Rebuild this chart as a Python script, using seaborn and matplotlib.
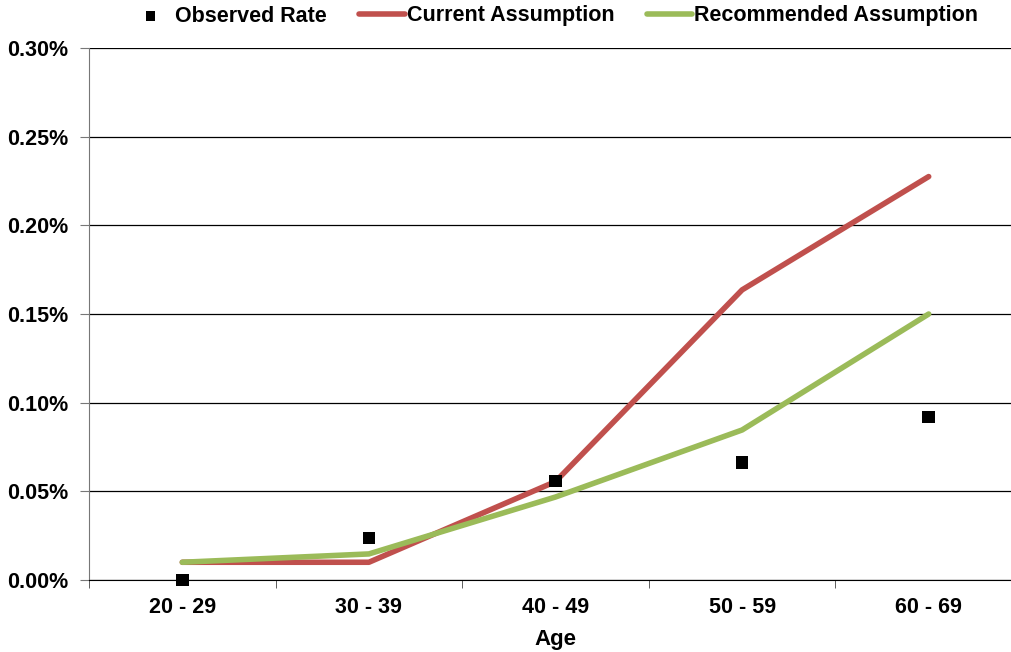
import matplotlib
matplotlib.use('Agg')
import matplotlib.pyplot as plt
import numpy as np
import pandas as pd
import seaborn as sns
from matplotlib.ticker import FuncFormatter

age_groups = ['20 - 29', '30 - 39', '40 - 49', '50 - 59', '60 - 69']
observed_rate = [0.0000, 0.0237, 0.0558, 0.0662, 0.0920]
current_assumption = [0.0100, 0.0100, 0.0555, 0.1636, 0.2275]
recommended_assumption = [0.0100, 0.0147, 0.0468, 0.0846, 0.1500]

df = pd.DataFrame({
    'Age': age_groups,
    'Observed Rate': observed_rate,
    'Current Assumption': current_assumption,
    'Recommended Assumption': recommended_assumption,
})
df['pos'] = np.arange(len(age_groups))

sns.set_style('white')
plt.rcParams['font.family'] = ['Liberation Sans', 'DejaVu Sans']
plt.rcParams['font.weight'] = 'bold'
plt.rcParams['text.color'] = 'black'
plt.rcParams['axes.labelcolor'] = 'black'

fig = plt.figure(figsize=(10.12, 6.52), dpi=100)
ax = fig.add_axes([89 / 1012, 72 / 652, 933 / 1012, 532 / 652])

sns.lineplot(data=df, x='pos', y='Current Assumption', color='#c0504d',
             linewidth=4, ax=ax, label='Current Assumption', zorder=3,
             solid_capstyle='round')
sns.lineplot(data=df, x='pos', y='Recommended Assumption', color='#9bbb59',
             linewidth=4, ax=ax, label='Recommended Assumption', zorder=3,
             solid_capstyle='round')
sns.scatterplot(data=df, x='pos', y='Observed Rate', color='black', marker='s',
                s=80, edgecolor='none', ax=ax, label='Observed Rate', zorder=4,
                clip_on=False)

ax.set_xlim(-0.5, 4.5)
ax.set_ylim(0, 0.30)
ax.set_yticks(np.arange(0, 0.301, 0.05))
ax.yaxis.set_major_formatter(FuncFormatter(lambda v, p: '%.2f%%' % v))
ax.set_xticks(df['pos'])
ax.set_xticklabels(age_groups)
ax.set_xticks(np.arange(-0.5, 4.6, 1), minor=True)
ax.tick_params(axis='x', which='major', length=0, pad=12, labelsize=15.5, labelcolor='black')
ax.tick_params(axis='x', which='minor', length=6, direction='out', color='#444444', bottom=True)
ax.tick_params(axis='y', length=6.5, direction='out', color='#777777', left=True,
               labelsize=15.5, pad=8.5, labelcolor='black')
ax.grid(axis='y', color='black', linewidth=0.9)
ax.set_axisbelow(True)
for s in ['top', 'right']:
    ax.spines[s].set_visible(False)
ax.spines['left'].set_color('#777777')
ax.spines['bottom'].set_color('black')
ax.set_xlabel('Age', fontsize=16, fontweight='bold', labelpad=8)
ax.set_ylabel('')

handles, labels = ax.get_legend_handles_labels()
order = [2, 0, 1]
ax.legend([handles[i] for i in order], [labels[i] for i in order],
          loc='center', bbox_to_anchor=(553 / 1012, 1 - 16 / 652),
          bbox_transform=fig.transFigure, ncol=3, frameon=False,
          fontsize=15.5, handlelength=2.1, handletextpad=0.1, columnspacing=1.5,
          markerscale=0.75, borderpad=0)

fig.savefig('out.png', dpi=100)
